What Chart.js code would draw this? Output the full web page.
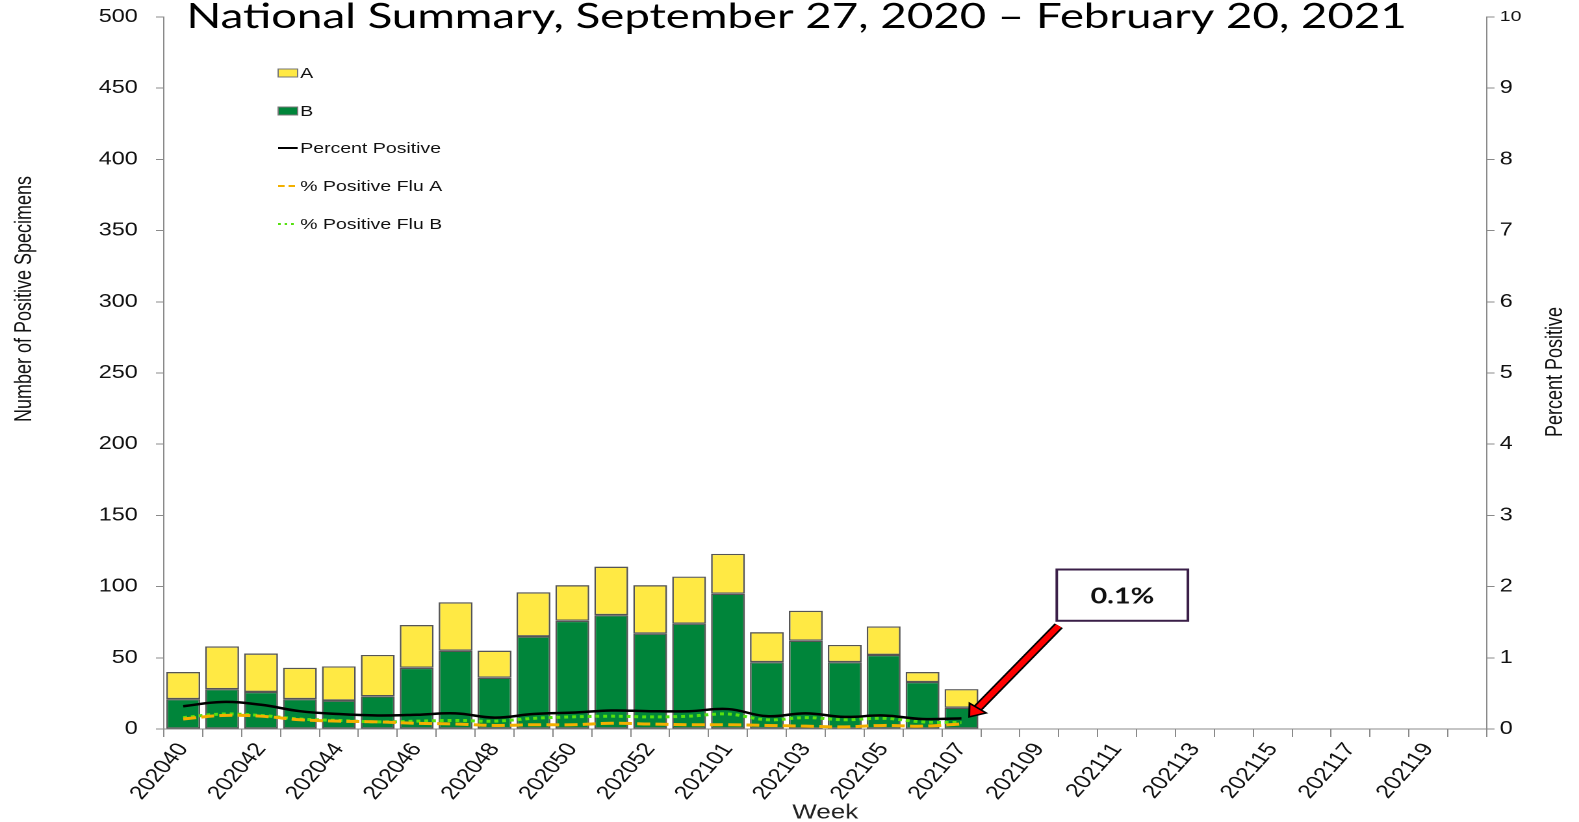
<!DOCTYPE html>
<html>
<head>
<meta charset="utf-8">
<script src="https://cdn.jsdelivr.net/npm/chart.js@4.4.1/dist/chart.umd.min.js"></script>
<style>
  html, body { margin: 0; padding: 0; background: #fff; overflow: hidden; }
  /* the reference is stretched sideways, so the canvas is too */
  #wrap { width: 1215px; height: 822px; transform: scaleX(1.2996); transform-origin: 0 0; }
</style>
</head>
<body>
<div id="wrap"><canvas id="chart"></canvas></div>
<script>
// ─── Data ───────────────────────────────────────────────────────────────
const weeks = [
  "202040", "202041", "202042", "202043", "202044", "202045", "202046",
  "202047", "202048", "202049", "202050", "202051", "202052", "202053",
  "202101", "202102", "202103", "202104", "202105", "202106", "202107",
  "202108", "202109", "202110", "202111", "202112", "202113", "202114",
  "202115", "202116", "202117", "202118", "202119", "202120",
];

// positive specimens (left axis)
const fluA = [19, 30, 27, 22, 24, 29, 30, 34, 19, 31, 25, 34, 34, 33, 28, 21, 21, 12, 20, 7, 13];
const fluB = [21, 28, 26, 21, 20, 23, 43, 55, 36, 65, 76, 80, 67, 74, 95, 47, 62, 47, 52, 33, 15];

// percent positive (right axis)
const pctPositive = [0.32, 0.38, 0.34, 0.25, 0.21, 0.19, 0.20, 0.22, 0.16, 0.21, 0.23, 0.26, 0.25, 0.25, 0.28, 0.18, 0.22, 0.17, 0.19, 0.14, 0.15];
const pctFluA = [0.14, 0.19, 0.18, 0.13, 0.11, 0.10, 0.08, 0.07, 0.05, 0.06, 0.06, 0.08, 0.07, 0.06, 0.06, 0.05, 0.04, 0.03, 0.05, 0.04, 0.07];
const pctFluB = [0.16, 0.21, 0.19, 0.14, 0.12, 0.10, 0.11, 0.12, 0.11, 0.15, 0.17, 0.18, 0.17, 0.18, 0.21, 0.13, 0.16, 0.13, 0.15, 0.10, 0.09];

const leftMax = 500, leftStep = 50;
const rightMax = 10, rightStep = 1;

const titleText = "National Summary, September 27, 2020 \u2013 February 20, 2021";
const calloutText = "0.1%";

// ─── Helpers ────────────────────────────────────────────────────────────
const pad = arr => weeks.map((_, i) => (i < arr.length ? arr[i] : null));
const AXIS = "#8a8a8a";
const FONT = "'Liberation Sans', Arial, sans-serif";

// fixed axis size, and no extra room asked for by the end labels
const fixWidth = w => s => { s.width = w; s.paddingTop = 0; s.paddingBottom = 0; };

// ─── Plugins: title, axis titles, legend, callout ───────────────────────
const decorations = {
  id: "decorations",
  afterDraw(chart) {
    const { ctx, scales } = chart;
    ctx.save();

    // title, drawn over the plot top like the original
    ctx.fillStyle = "#000";
    ctx.font = "34px Lato, sans-serif";
    const size = 34 * 939 / ctx.measureText(titleText).width;
    ctx.font = `${size}px Lato, sans-serif`;
    ctx.textAlign = "center";
    ctx.textBaseline = "alphabetic";
    ctx.fillText(titleText, 613, 28);

    // axis titles
    ctx.font = `18px ${FONT}`;
    ctx.fillStyle = "#111";
    ctx.textBaseline = "middle";
    ctx.save();
    ctx.translate(19, 299);
    ctx.rotate(-Math.PI / 2);
    ctx.fillText("Number of Positive Specimens", 0, 0);
    ctx.restore();
    ctx.save();
    ctx.translate(1197, 372);
    ctx.rotate(-Math.PI / 2);
    ctx.fillText("Percent Positive", 0, 0);
    ctx.restore();

    // legend (A, B, then the three lines)
    const order = [4, 3, 0, 1, 2];
    const rows = [73, 111, 148, 186, 224];
    ctx.font = `15px ${FONT}`;
    ctx.textAlign = "left";
    order.forEach((di, k) => {
      const ds = chart.data.datasets[di];
      const y = rows[k];
      if (ds.type === "bar") {
        ctx.fillStyle = ds.backgroundColor;
        ctx.fillRect(214, y - 4, 15, 8);
        ctx.strokeStyle = "#777";
        ctx.lineWidth = 1;
        ctx.strokeRect(214, y - 4, 15, 8);
      } else {
        ctx.strokeStyle = ds.borderColor;
        ctx.lineWidth = 2;
        ctx.setLineDash(ds.legendDash || []);
        ctx.beginPath();
        ctx.moveTo(214, y);
        ctx.lineTo(229, y);
        ctx.stroke();
        ctx.setLineDash([]);
      }
      ctx.fillStyle = "#111";
      ctx.fillText(ds.label, 231, y + 1);
    });

    // callout: box and red arrow pointing at the last week's value
    const x = scales.x, y2 = scales.y2;
    const bx0 = x.getPixelForValue(22.45), bx1 = x.getPixelForValue(25.82);
    const by0 = y2.getPixelForValue(2.24), by1 = y2.getPixelForValue(1.52);
    const tail = { x: x.getPixelForValue(22.5), y: y2.getPixelForValue(1.45) };
    const tip = { x: x.getPixelForValue(20.2), y: y2.getPixelForValue(0.17) };
    const ang = Math.atan2(tip.y - tail.y, tip.x - tail.x);
    const headLen = 11, headW = 8;
    const neck = { x: tip.x - headLen * Math.cos(ang), y: tip.y - headLen * Math.sin(ang) };

    ctx.lineCap = "butt";
    ctx.strokeStyle = "#000";
    ctx.lineWidth = 8;
    ctx.beginPath(); ctx.moveTo(tail.x, tail.y); ctx.lineTo(neck.x, neck.y); ctx.stroke();
    ctx.strokeStyle = "#ff0000";
    ctx.lineWidth = 5;
    ctx.beginPath(); ctx.moveTo(tail.x, tail.y); ctx.lineTo(neck.x, neck.y); ctx.stroke();
    ctx.beginPath();
    ctx.moveTo(tip.x, tip.y);
    ctx.lineTo(neck.x + headW * Math.sin(ang), neck.y - headW * Math.cos(ang));
    ctx.lineTo(neck.x - headW * Math.sin(ang), neck.y + headW * Math.cos(ang));
    ctx.closePath();
    ctx.fillStyle = "#ff0000";
    ctx.fill();
    ctx.lineWidth = 1.5;
    ctx.strokeStyle = "#000";
    ctx.stroke();

    ctx.fillStyle = "#fff";
    ctx.fillRect(bx0, by0, bx1 - bx0, by1 - by0);
    ctx.strokeStyle = "#3a1f48";
    ctx.lineWidth = 2;
    ctx.strokeRect(bx0, by0, bx1 - bx0, by1 - by0);
    ctx.fillStyle = "#111";
    ctx.font = "bold 26px Lato, sans-serif";
    const cs = 26 * 49 / ctx.measureText(calloutText).width;
    ctx.font = `bold ${cs}px Lato, sans-serif`;
    ctx.textAlign = "center";
    ctx.textBaseline = "middle";
    ctx.fillText(calloutText, (bx0 + bx1) / 2, (by0 + by1) / 2 + 1);

    ctx.restore();
  },
};

// ─── Chart ──────────────────────────────────────────────────────────────
new Chart(document.getElementById("chart"), {
  data: {
    labels: weeks,
    datasets: [
      { type: "line", label: "Percent Positive", data: pad(pctPositive), yAxisID: "y2",
        borderColor: "#000", borderWidth: 2.5, pointRadius: 0, tension: 0.4 },
      { type: "line", label: "% Positive Flu A", data: pad(pctFluA), yAxisID: "y2",
        borderColor: "#f2b000", borderWidth: 3, borderDash: [10, 4], legendDash: [5, 3],
        pointRadius: 0, tension: 0.4 },
      { type: "line", label: "% Positive Flu B", data: pad(pctFluB), yAxisID: "y2",
        borderColor: "#55e010", borderWidth: 3, borderDash: [3, 3], legendDash: [2, 3],
        pointRadius: 0, tension: 0.4 },
      { type: "bar", label: "B", data: pad(fluB), yAxisID: "y", stack: "s",
        backgroundColor: "#00853a", borderColor: "#555", borderWidth: 1.3, borderSkipped: false,
        barPercentage: 0.87, categoryPercentage: 1 },
      { type: "bar", label: "A", data: pad(fluA), yAxisID: "y", stack: "s",
        backgroundColor: "#ffe944", borderColor: "#555", borderWidth: 1.3, borderSkipped: false,
        barPercentage: 0.87, categoryPercentage: 1 },
    ],
  },
  options: {
    responsive: true,
    maintainAspectRatio: false,
    devicePixelRatio: 2,
    animation: false,
    layout: { padding: { top: 17, left: 0, right: 0, bottom: 0 } },
    plugins: { legend: { display: false }, tooltip: { enabled: false } },
    scales: {
      x: {
        stacked: true,
        afterFit: s => { s.height = 93; },
        grid: { drawOnChartArea: false, offset: true, tickLength: 8, color: AXIS },
        border: { color: AXIS, width: 1 },
        ticks: {
          autoSkip: false, maxRotation: 55, minRotation: 55, padding: 2, color: "#111",
          font: { family: FONT, size: 19 },
          callback: (v, i) => (i % 2 === 0 ? weeks[i] : ""),
        },
        title: { display: true, text: "Week", color: "#222", font: { family: FONT, size: 20 }, padding: { top: 0, bottom: -3 } },
      },
      y: {
        position: "left", stacked: true, min: 0, max: leftMax,
        afterFit: fixWidth(126),
        grid: { drawOnChartArea: false, tickLength: 6, color: AXIS },
        border: { color: AXIS, width: 1 },
        ticks: { stepSize: leftStep, padding: 14, color: "#111", font: { family: FONT, size: 18 } },
      },
      y2: {
        position: "right", min: 0, max: rightMax,
        afterFit: fixWidth(71),
        grid: { drawOnChartArea: false, tickLength: 6, color: AXIS },
        border: { color: AXIS, width: 1 },
        ticks: {
          stepSize: rightStep, padding: 4, color: "#111",
          font: c => ({ family: FONT, size: c.tick && c.tick.value === rightMax ? 15 : 18 }),
        },
      },
    },
  },
  plugins: [decorations],
});
</script>
</body>
</html>
